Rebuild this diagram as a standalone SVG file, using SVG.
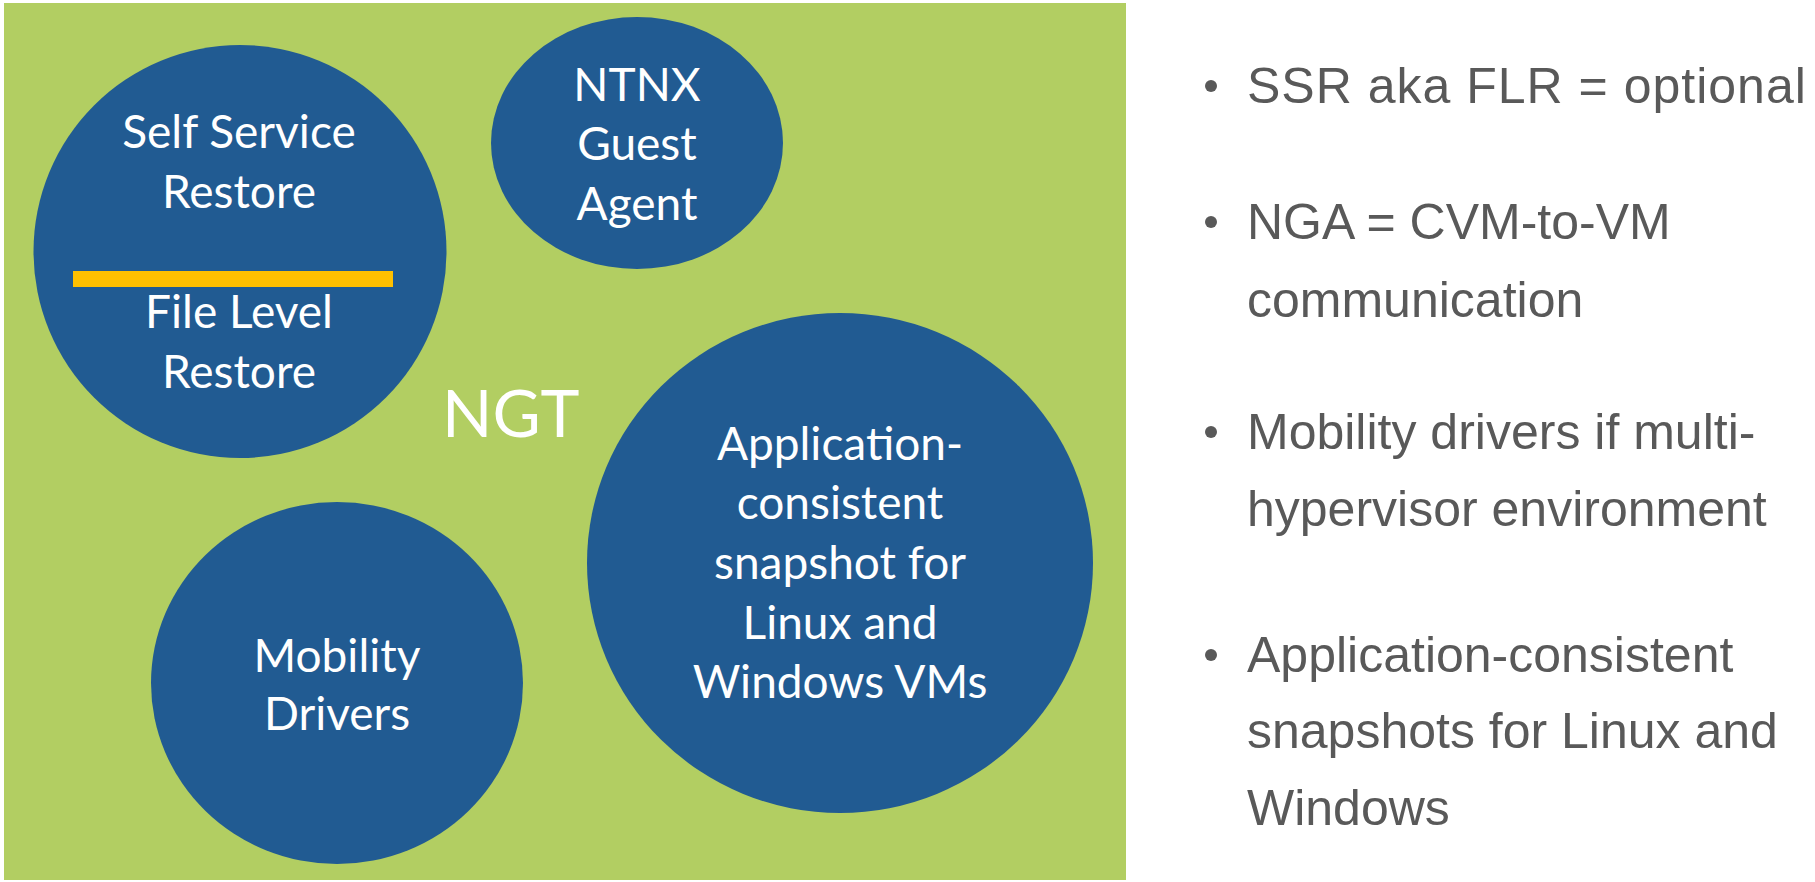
<svg xmlns="http://www.w3.org/2000/svg" width="1815" height="882" viewBox="0 0 1815 882">
<style>
.bg{fill:#FFFFFF}
.panel{fill:#B2CE62}
.node{fill:#215B92}
.lbl{font-family:Lato,"Open Sans","Liberation Sans",sans-serif;font-size:46px;fill:#FFFFFF;text-anchor:middle}
.ngt{font-family:Lato,"Open Sans","Liberation Sans",sans-serif;font-size:66px;fill:#FFFFFF}
.bul{font-family:"Liberation Sans",Arial,sans-serif;font-size:50px;fill:#595959}
.dot{fill:#595959}
</style>
<rect class="bg" x="0" y="0" width="1815" height="882"/>
<rect class="panel" x="4" y="3" width="1122" height="877"/>
<g id="connectors"/>
<g id="node-ssr">
<circle class="node" cx="240" cy="251.5" r="206.5"/>
<rect x="73" y="271" width="320" height="16" fill="#FFC000"/>
<text class="lbl" x="239" y="148">Self Service</text>
<text class="lbl" x="239" y="208">Restore</text>
<text class="lbl" x="239" y="328">File Level</text>
<text class="lbl" x="239" y="388">Restore</text>
</g>
<g id="node-nga">
<ellipse class="node" cx="637" cy="143" rx="146" ry="126"/>
<text class="lbl" x="637" y="101">NTNX</text>
<text class="lbl" x="637" y="160">Guest</text>
<text class="lbl" x="637" y="220">Agent</text>
</g>
<g id="node-mobility">
<ellipse class="node" cx="337" cy="683" rx="186" ry="181"/>
<text class="lbl" x="337" y="672">Mobility</text>
<text class="lbl" x="337" y="730">Drivers</text>
</g>
<g id="node-app">
<ellipse class="node" cx="840" cy="563" rx="253" ry="250"/>
<text class="lbl" x="840" y="460">Application-</text>
<text class="lbl" x="840" y="519">consistent</text>
<text class="lbl" x="840" y="579">snapshot for</text>
<text class="lbl" x="840" y="639">Linux and</text>
<text class="lbl" x="840" y="698">Windows VMs</text>
</g>
<g id="label-ngt">
<text class="ngt" x="442" y="437">NGT</text>
</g>
<g id="bullets">
<circle class="dot" cx="1211" cy="86" r="6"/>
<text class="bul" x="1247" y="103" letter-spacing="1">SSR aka FLR = optional</text>
<circle class="dot" cx="1211" cy="222" r="6"/>
<text class="bul" x="1247" y="239">NGA = CVM-to-VM</text>
<text class="bul" x="1247" y="317">communication</text>
<circle class="dot" cx="1211" cy="432" r="6"/>
<text class="bul" x="1247" y="449">Mobility drivers if multi-</text>
<text class="bul" x="1247" y="526">hypervisor environment</text>
<circle class="dot" cx="1211" cy="655" r="6"/>
<text class="bul" x="1247" y="672">Application-consistent</text>
<text class="bul" x="1247" y="748">snapshots for Linux and</text>
<text class="bul" x="1247" y="825">Windows</text>
</g>
</svg>
